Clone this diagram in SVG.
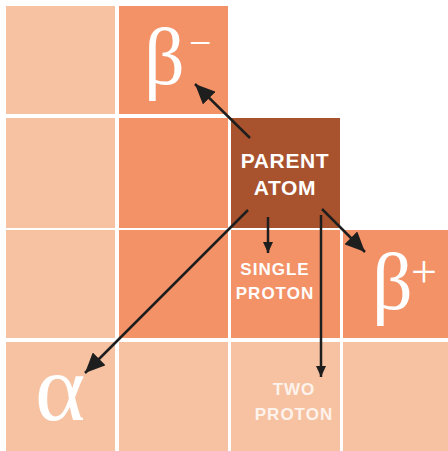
<svg xmlns="http://www.w3.org/2000/svg" width="448" height="451" viewBox="0 0 448 451">
<style>
.light{fill:#F6C2A2}
.mid{fill:#F39167}
.dark{fill:#A9522E}
.greek{font-family:"Liberation Serif","DejaVu Serif",serif;fill:#fff}
.lbl{font-family:"Liberation Sans","DejaVu Sans",sans-serif;font-weight:bold;fill:#fff;text-anchor:middle}
.lbl2{font-family:"Liberation Sans","DejaVu Sans",sans-serif;font-weight:bold;fill:#fdf3ec;text-anchor:middle}
.conn{stroke:#1e1e1e;stroke-width:2.5;fill:none}
</style>
<defs>
<marker id="big" viewBox="0 0 20 18" refX="20" refY="9" markerWidth="20" markerHeight="18" markerUnits="userSpaceOnUse" orient="auto">
<path d="M0,0 L20,9 L0,18 z" fill="#1e1e1e"/>
</marker>
<marker id="small" viewBox="0 0 11 10" refX="11" refY="5" markerWidth="11" markerHeight="10" markerUnits="userSpaceOnUse" orient="auto">
<path d="M0,0 L11,5 L0,10 z" fill="#1e1e1e"/>
</marker>
</defs>
<rect width="448" height="451" fill="#fff"/>
<g id="cells">
<rect class="light" x="6" y="6" width="109" height="108"/>
<rect class="light" x="6" y="118" width="109" height="110"/>
<rect class="light" x="6" y="230" width="109" height="108"/>
<rect class="mid" x="119" y="118" width="109" height="110"/>
<rect class="mid" x="119" y="230" width="109" height="108"/>
<rect class="light" x="119" y="342" width="109" height="109"/>
<rect class="light" x="343" y="342" width="105" height="109"/>
</g>
<g id="beta-minus">
<rect class="mid" x="119" y="6" width="109" height="108"/>
<text class="greek" x="144" y="84" font-size="80">β</text>
<text class="greek" x="189" y="56" font-size="40">−</text>
</g>
<g id="parent-atom">
<rect class="dark" x="231" y="118" width="109" height="110"/>
<text class="lbl" x="285" y="168" font-size="21" letter-spacing="0.6">PARENT</text>
<text class="lbl" x="285" y="195" font-size="21" letter-spacing="0.6">ATOM</text>
</g>
<g id="single-proton">
<rect class="mid" x="231" y="230" width="109" height="108"/>
<text class="lbl" x="275" y="275" font-size="17" letter-spacing="1">SINGLE</text>
<text class="lbl" x="275" y="299" font-size="17" letter-spacing="1">PROTON</text>
</g>
<g id="beta-plus">
<rect class="mid" x="343" y="230" width="105" height="108"/>
<text class="greek" x="372" y="309" font-size="80">β</text>
<text class="greek" x="411" y="287" font-size="46">+</text>
</g>
<g id="alpha">
<rect class="light" x="6" y="342" width="109" height="109"/>
<text class="greek" x="35" y="420" font-size="96">α</text>
</g>
<g id="two-proton">
<rect class="light" x="231" y="342" width="109" height="109"/>
<text class="lbl2" x="294" y="395" font-size="17" letter-spacing="1">TWO</text>
<text class="lbl2" x="294" y="420" font-size="17" letter-spacing="1">PROTON</text>
</g>
<g id="connectors">
<line class="conn" x1="250" y1="138" x2="195" y2="84" marker-end="url(#big)"/>
<line class="conn" x1="248" y1="210" x2="85" y2="373" marker-end="url(#big)"/>
<line class="conn" x1="268" y1="217" x2="268" y2="253" marker-end="url(#small)"/>
<line class="conn" x1="321" y1="215" x2="321" y2="377" marker-end="url(#small)"/>
<line class="conn" x1="322" y1="209" x2="365" y2="252" marker-end="url(#big)"/>
</g>
</svg>
